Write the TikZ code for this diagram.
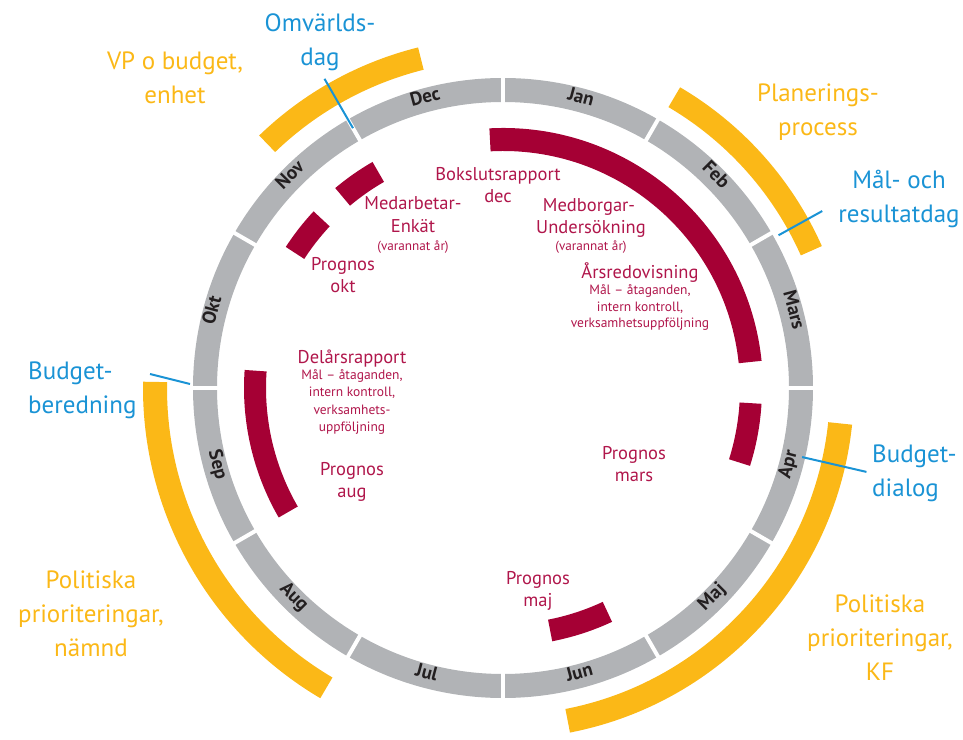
\documentclass[tikz,border=0pt]{standalone}
\usepackage{fontspec}
\setmainfont{PT Sans}
\definecolor{ringgray}{HTML}{B1B3B6}
\definecolor{wine}{HTML}{A50034}
\definecolor{winetext}{HTML}{B0164B}
\definecolor{gold}{HTML}{FBB817}
\definecolor{sky}{HTML}{1A93D5}
\definecolor{monthtxt}{HTML}{231F20}
\newcommand{\annsec}[5]{%
  \fill[#1] (#2:#4) arc[start angle=#2, end angle=#3, radius=#4] -- (#3:#5) arc[start angle=#3, end angle=#2, radius=#5] -- cycle;}
\tikzset{
  monthlbl/.style={text=monthtxt, font=\bfseries\fontsize{19}{21}\selectfont, inner sep=0, text height=1.45ex, text depth=0.35ex},
  bigblue/.style={text=sky, font=\fontsize{25}{34}\selectfont, align=center, inner sep=0},
  bigorange/.style={text=gold, font=\fontsize{25}{34}\selectfont, align=center, inner sep=0},
  redM/.style={text=winetext, font=\fontsize{18.5}{22}\selectfont, align=center, inner sep=0},
  redA/.style={text=winetext, font=\fontsize{18.5}{21.5}\selectfont, inner sep=0, text height=0.72em, text depth=0.2em},
  redB/.style={text=winetext, font=\fontsize{13.5}{17}\selectfont, inner sep=0, text height=0.72em, text depth=0.2em},
  redC/.style={text=winetext, font=\fontsize{13.2}{15}\selectfont, inner sep=0, text height=0.72em, text depth=0.2em},
  blueline/.style={draw=sky, line width=2}
}
\begin{document}
\begin{tikzpicture}[x=1pt,y=1pt]
\useasboundingbox (0,0) rectangle (963,739);
\begin{scope}[shift={(503,351)}]
  % orange outer arcs
  \annsec{gold}{104}{134}{328}{351}
  \annsec{gold}{24}{59.5}{326}{349}
  \annsec{gold}{-6}{-79}{327}{351}
  \annsec{gold}{179}{239.5}{336}{360}
  % gray month ring
  \fill[ringgray, even odd rule] (0,0) circle[radius=310] (0,0) circle[radius=286];
  \foreach \a in {0,30,...,330} \draw[white, line width=4] (\a:280) -- (\a:316);
  \foreach \m/\a/\r in {Jan/75/-15, Feb/45/-45, Mars/15/-75, Apr/-15/75, Maj/-45/45, Jun/-75/15, Jul/-105/-15, Aug/-135/-45, Sep/-165/-75, Okt/165/75, Nov/135/45, Dec/105/15}
    \node[monthlbl, rotate=\r] (m\m) at (\a:298) {\m};
  % red inner arcs
  \annsec{wine}{93}{6}{237}{260}
  \annsec{wine}{-3.5}{-17.5}{237}{259}
  \annsec{wine}{-65}{-79}{236}{258}
  \annsec{wine}{176}{210}{237}{259}
  \annsec{wine}{137}{147}{237}{259}
  \annsec{wine}{120}{130}{238}{261}
  % connector end points
  \coordinate (omvA) at (120:357);
  \coordinate (omvB) at (120:300);
  \coordinate (malA) at (29:365);
  \coordinate (malB) at (29:315);
  \coordinate (dialA) at (-13:373);
  \coordinate (dialB) at (-13:307);
\end{scope}
\coordinate (beredA) at (150,365);
\coordinate (beredB) at (190,355);
\draw[blueline] (omvA) -- (omvB);
\draw[blueline] (malA) -- (malB);
\draw[blueline] (dialA) -- (dialB);
\draw[blueline] (beredA) -- (beredB);

% outer labels
\node[bigblue] (omv) at (320,697) {Omvärlds-\\dag};
\node[bigorange] (vp) at (175,661) {VP o budget,\\enhet};
\node[bigorange] (plan) at (818,627) {Planerings-\\process};
\node[bigblue] (mal) at (899,540) {Mål- och\\resultatdag};
\node[bigblue, align=left, anchor=west] (dial) at (872,266) {Budget-\\dialog};
\node[bigblue, align=left, anchor=west] (bered) at (28,349) {Budget-\\beredning};
\node[bigorange] (polN) at (91,125) {Politiska\\prioriteringar,\\nämnd};
\node[bigorange] (polK) at (880,101) {Politiska\\prioriteringar,\\KF};

% inner red labels
\node[redM] (boks) at (498,554) {Bokslutsrapport\\dec};
\node[redA] (medb1) at (589,530) {Medborgar-};
\node[redA] (medb2) at (591,508) {Undersökning};
\node[redC] (medb3) at (591,491) {(varannat år)};
\node[redA] (ars1) at (640,463) {Årsredovisning};
\node[redB] (ars2) at (640,447) {Mål – åtaganden,};
\node[redB] (ars3) at (640,430) {intern kontroll,};
\node[redB] (ars4) at (640,414) {verksamhetsuppföljning};
\node[redA] (meda1) at (413,532) {Medarbetar-};
\node[redA] (meda2) at (413,509) {Enkät};
\node[redC] (meda3) at (413,491) {(varannat år)};
\node[redM] (progokt) at (343,464) {Prognos\\okt};
\node[redA] (del1) at (352,378) {Delårsrapport};
\node[redB] (del2) at (352,362) {Mål – åtaganden,};
\node[redB] (del3) at (352,345) {intern kontroll,};
\node[redB] (del4) at (352,327) {verksamhets-};
\node[redB] (del5) at (352,310) {uppföljning};
\node[redM] (progaug) at (352,257) {Prognos\\aug};
\node[redM] (progmars) at (634,275) {Prognos\\mars};
\node[redM] (progmaj) at (538,148) {Prognos\\maj};
\end{tikzpicture}
\end{document}
